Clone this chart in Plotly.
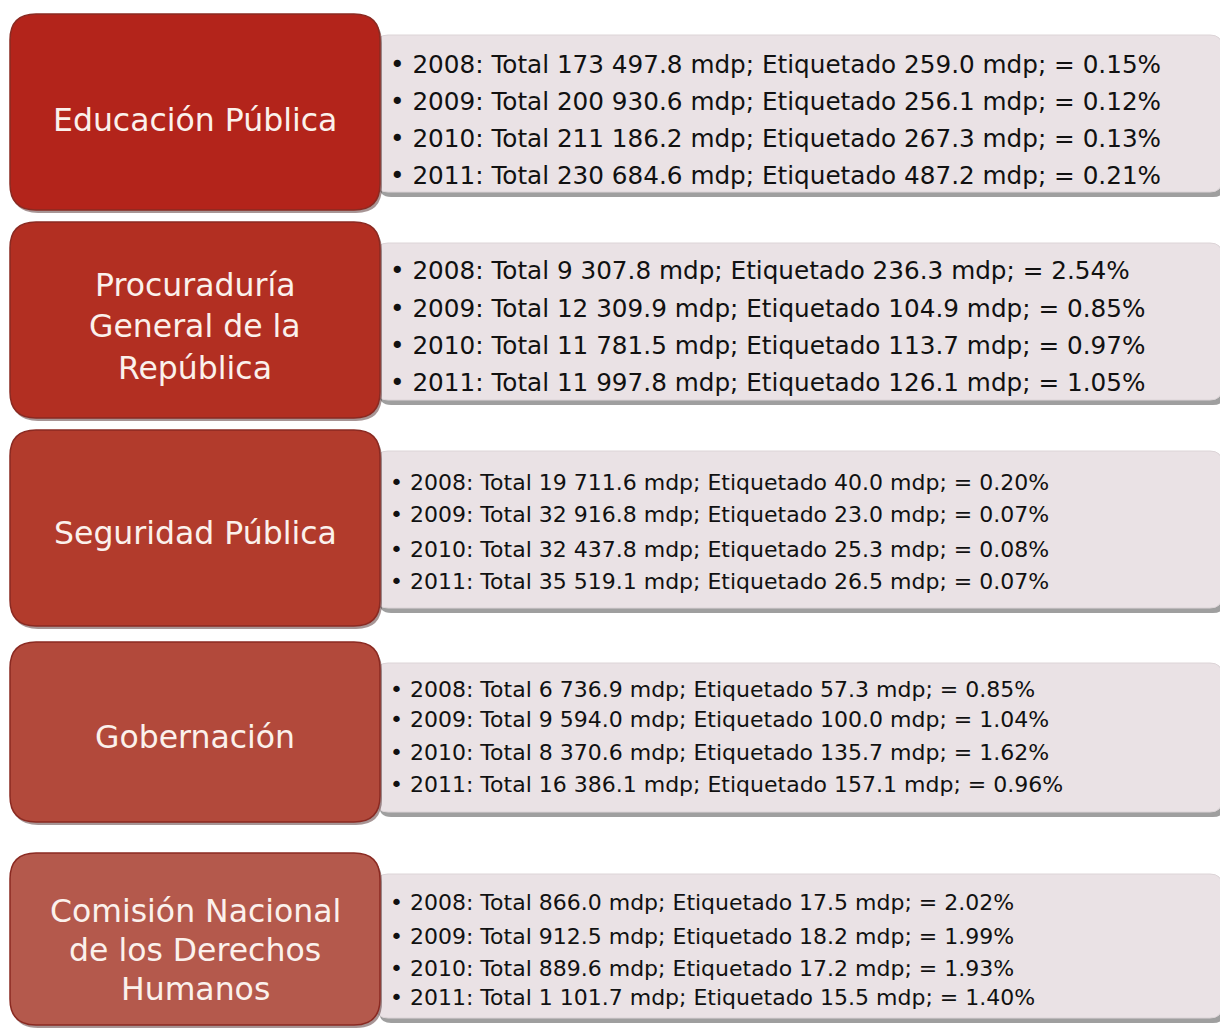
import plotly.graph_objects as go

# ---------------- data ----------------
entities = [
    ["Educación Pública"],
    ["Procuraduría", "General de la", "República"],
    ["Seguridad Pública"],
    ["Gobernación"],
    ["Comisión Nacional", "de los Derechos", "Humanos"],
]
years = ["2008", "2009", "2010", "2011"]
total = [
    ["173 497.8", "200 930.6", "211 186.2", "230 684.6"],
    ["9 307.8", "12 309.9", "11 781.5", "11 997.8"],
    ["19 711.6", "32 916.8", "32 437.8", "35 519.1"],
    ["6 736.9", "9 594.0", "8 370.6", "16 386.1"],
    ["866.0", "912.5", "889.6", "1 101.7"],
]
etiquetado = [
    ["259.0", "256.1", "267.3", "487.2"],
    ["236.3", "104.9", "113.7", "126.1"],
    ["40.0", "23.0", "25.3", "26.5"],
    ["57.3", "100.0", "135.7", "157.1"],
    ["17.5", "18.2", "17.2", "15.5"],
]
pct = [
    ["0.15%", "0.12%", "0.13%", "0.21%"],
    ["2.54%", "0.85%", "0.97%", "1.05%"],
    ["0.20%", "0.07%", "0.08%", "0.07%"],
    ["0.85%", "1.04%", "1.62%", "0.96%"],
    ["2.02%", "1.99%", "1.93%", "1.40%"],
]

# ---------------- layout geometry (page pixels) ----------------
W, H = 1228, 1029
OFF = 8  # default page body margin
red_boxes = [(10, 14, 380, 210), (10, 222, 380, 418), (10, 430, 380, 626),
             (10, 642, 380, 822), (10, 853, 380, 1025)]
gray_boxes = [(376, 35, 1222, 192), (376, 243, 1222, 400), (376, 451, 1222, 608),
              (376, 663, 1222, 812), (376, 874, 1222, 1018)]
line_y = [[64, 101, 138, 175], [270, 308, 345, 382], [482, 514, 549, 581],
          [689, 719, 752, 784], [902, 936, 968, 997]]
head_y = [[120], [285, 326, 368], [533], [737], [911, 950, 989]]
red_colors = ["#b3241b", "#b22f22", "#b23b2c", "#b2493b", "#b4594c"]
text_sizes = [24.7, 24.7, 22, 22, 22]
head_size = 31.5
FONT = "DejaVu Sans"


def rrect(x0, y0, x1, y1, r):
    return (f"M {x0+r},{y0} L {x1-r},{y0} Q {x1},{y0} {x1},{y0+r} "
            f"L {x1},{y1-r} Q {x1},{y1} {x1-r},{y1} L {x0+r},{y1} "
            f"Q {x0},{y1} {x0},{y1-r} L {x0},{y0+r} Q {x0},{y0} {x0+r},{y0} Z")


fig = go.Figure()
shapes = []
annotations = []

for i in range(len(entities)):
    gx0, gy0, gx1, gy1 = gray_boxes[i]
    shapes.append(dict(type="path", path=rrect(gx0 + 3, gy0 + 4, gx1 + 3, gy1 + 5, 12),
                       fillcolor="rgba(80,80,80,0.55)", line=dict(width=0), layer="below"))
    shapes.append(dict(type="path", path=rrect(gx0, gy0, gx1, gy1, 12),
                       fillcolor="#eae2e5", line=dict(color="#dcd4d7", width=1), layer="below"))
    rx0, ry0, rx1, ry1 = red_boxes[i]
    shapes.append(dict(type="path", path=rrect(rx0 + 2, ry0 + 3, rx1 + 2, ry1 + 3, 26),
                       fillcolor="rgba(60,20,20,0.45)", line=dict(width=0), layer="below"))
    shapes.append(dict(type="path", path=rrect(rx0, ry0, rx1, ry1, 26),
                       fillcolor=red_colors[i], line=dict(color="#8a2a22", width=1.5), layer="below"))
    for k, ln in enumerate(entities[i]):
        annotations.append(dict(x=(rx0 + rx1) / 2, y=head_y[i][k], xref="x", yref="y",
                                text=ln, showarrow=False, align="center",
                                font=dict(family=FONT, size=head_size, color="#fbf1ec"),
                                xanchor="center", yanchor="middle"))
    for j, yr in enumerate(years):
        txt = (f"• {yr}: Total {total[i][j]} mdp; Etiquetado {etiquetado[i][j]} mdp; "
               f"= {pct[i][j]}")
        annotations.append(dict(x=388, y=line_y[i][j], xref="x", yref="y", text=txt,
                                showarrow=False, xanchor="left", yanchor="middle",
                                font=dict(family=FONT, size=text_sizes[i], color="#111111")))

fig.update_layout(
    width=W - OFF, height=H - OFF,
    margin=dict(l=0, r=0, t=0, b=0),
    paper_bgcolor="white", plot_bgcolor="white",
    xaxis=dict(range=[OFF, W], visible=False, fixedrange=True),
    yaxis=dict(range=[H, OFF], visible=False, fixedrange=True),
    shapes=shapes, annotations=annotations, showlegend=False,
)
fig.write_html("out.html")
